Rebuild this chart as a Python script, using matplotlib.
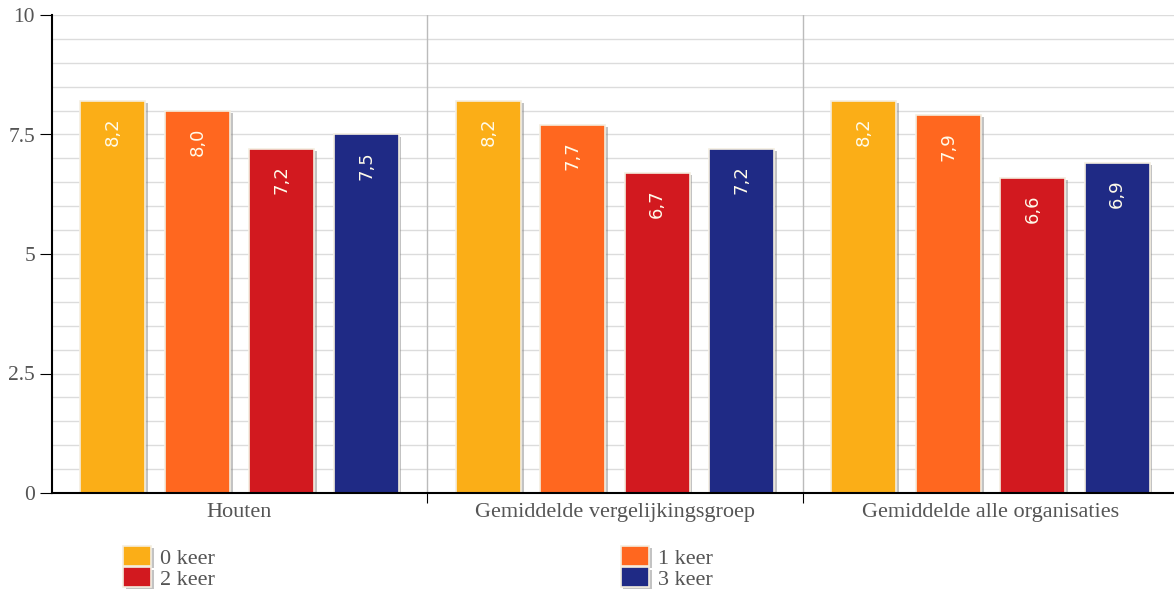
import matplotlib
matplotlib.use("Agg")
import matplotlib.pyplot as plt
import matplotlib.patheffects as pe
import numpy as np

categories = ["Houten", "Gemiddelde vergelijkingsgroep", "Gemiddelde alle organisaties"]
series_names = ["0 keer", "1 keer", "2 keer", "3 keer"]
values = {
    "0 keer": [8.2, 8.2, 8.2],
    "1 keer": [8.0, 7.7, 7.9],
    "2 keer": [7.2, 6.7, 6.6],
    "3 keer": [7.5, 7.2, 6.9],
}
colors = ["#FBAE17", "#FF671F", "#D2191F", "#1F2A85"]
yticks = [0, 2.5, 5, 7.5, 10]
ytick_labels = ["0", "2.5", "5", "7.5", "10"]

fig = plt.figure(figsize=(11.74, 5.96), dpi=100)
W, H = 1174, 596
left_px, right_px, top_px, bot_px = 51.75, 1174, 15, 493
ax = fig.add_axes([left_px / W, 1 - bot_px / H, (right_px - left_px) / W, (bot_px - top_px) / H])

x = np.arange(len(categories))
step = 0.2247
width = 0.173
handles = []
for i, name in enumerate(series_names):
    offs = (i - 1.5) * step
    bars = ax.bar(x + offs, values[name], width=width, color=colors[i],
                  edgecolor="#f4eee0", linewidth=1.2, zorder=3,
                  path_effects=[pe.SimplePatchShadow(offset=(2, -1.5), shadow_rgbFace="#888888", alpha=0.5), pe.Normal()])
    handles.append(bars)
    for xi, v in zip(x + offs, values[name]):
        ax.annotate(f"{v:.1f}".replace(".", ","), (xi, v), xytext=(0, -12), textcoords="offset points",
                    rotation=90, ha="center", va="top", color="#fffbea", fontsize=13,
                    family="DejaVu Sans", zorder=4)

ax.set_ylim(0, 10)
ax.set_xlim(-0.5, (right_px - 239.5) / 375.5)

# grid
for yv in np.arange(0.5, 10.01, 0.5):
    ax.axhline(yv, color="#dcdcdc", linewidth=1.0, zorder=1)
for xv in [0.5, 1.5]:
    ax.axvline(xv, color="#bbbbbb", linewidth=1.0, zorder=1)

ax.set_yticks(yticks)
ax.set_yticklabels(ytick_labels, family="Liberation Serif", fontsize=15.5, color="#555555")
ax.set_xticks([0.5, 1.5])
ax.set_xticklabels([])
ax.set_xticks(x, minor=True)
ax.set_xticklabels(categories, minor=True, family="Liberation Serif", fontsize=16, color="#555555")
ax.tick_params(axis="x", which="minor", length=0, pad=7.5)
ax.tick_params(axis="x", which="major", length=7, direction="out", color="black")
ax.tick_params(axis="y", length=9, direction="out", color="black", pad=3)

for s in ["top", "right"]:
    ax.spines[s].set_visible(False)
ax.spines["left"].set_color("black")
ax.spines["bottom"].set_color("black")
ax.spines["left"].set_linewidth(1.5)
ax.spines["bottom"].set_linewidth(1.5)
ax.spines["bottom"].set_zorder(5)

order = [0, 2, 1, 3]
leg = fig.legend([handles[i] for i in order], [series_names[i] for i in order],
                 ncol=2, loc="upper left", bbox_to_anchor=(123 / W, 1 - 546 / H),
                 frameon=False, borderpad=0, borderaxespad=0,
                 handlelength=1.27, handleheight=1.0, handletextpad=0.4,
                 columnspacing=18.25, labelspacing=-0.05,
                 prop={"family": "Liberation Serif", "size": 16})
for t in leg.get_texts():
    t.set_color("#555555")

fig.savefig("out.png", dpi=100, facecolor="white")
